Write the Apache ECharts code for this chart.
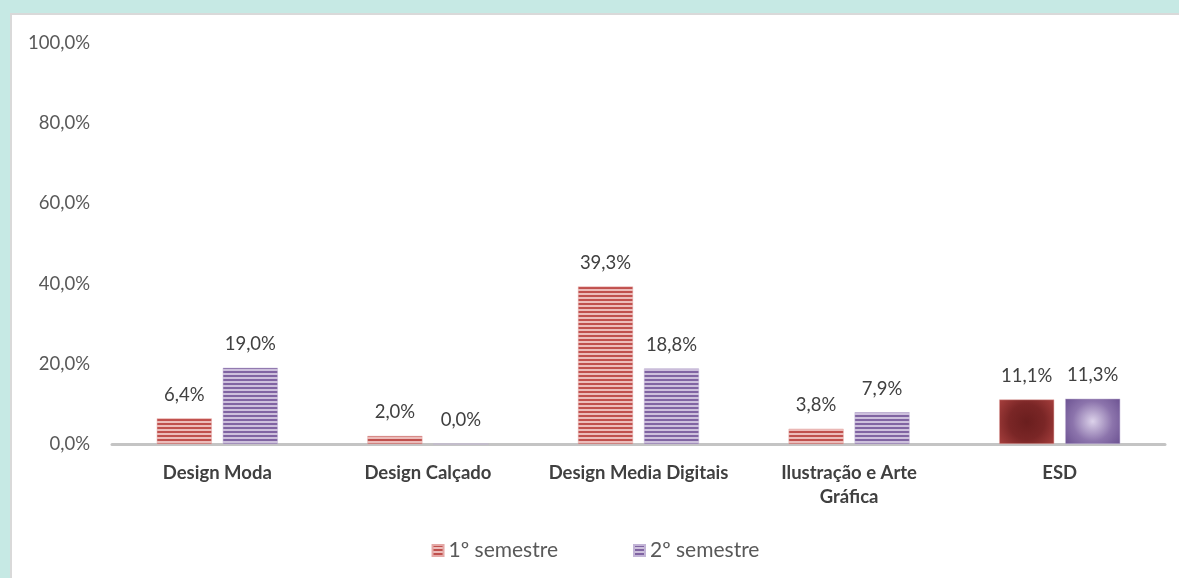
<!DOCTYPE html>
<html>
<head>
<meta charset="utf-8">
<script src="https://cdn.jsdelivr.net/npm/echarts@6/dist/echarts.min.js"></script>
<style>
  html, body { margin: 0; padding: 0; background: #c6e9e4; }
  #chart {
    position: absolute; left: 10px; top: 13px;
    width: 1169px; height: 565px;
    background: #fff;
    border-left: 2px solid #d9d9d9; border-top: 2px solid #d9d9d9;
    box-sizing: border-box;
  }
</style>
</head>
<body>
<div id="chart"></div>
<script>
const categories = ['Design Moda', 'Design Calçado', 'Design Media Digitais', 'Ilustração e Arte\nGráfica', 'ESD']
const sem1 = [6.4, 2.0, 39.3, 3.8, 11.1]
const sem2 = [19.0, 0.0, 18.8, 7.9, 11.3]
const yTicks = [0, 20, 40, 60, 80, 100]

const stripes = (dark, light) => {
  const c = document.createElement('canvas')
  c.width = 4
  c.height = 4
  const ctx = c.getContext('2d')
  ctx.fillStyle = light
  ctx.fillRect(0, 0, 4, 4)
  ctx.fillStyle = dark
  ctx.fillRect(0, 0, 4, 2)
  return { image: c, repeat: 'repeat' }
}

const redFill = stripes('#c0504d', '#ecbcba')
const purpleFill = stripes('#8064a2', '#cdc0dc')

const esdRed = {
  type: 'radial', x: 0.5, y: 0.5, r: 0.8,
  colorStops: [{ offset: 0, color: '#6a1e1e' }, { offset: 0.5, color: '#7a2626' }, { offset: 1, color: '#a8403e' }]
}
const esdPurple = {
  type: 'radial', x: 0.5, y: 0.5, r: 0.8,
  colorStops: [{ offset: 0, color: '#dcd2ea' }, { offset: 0.55, color: '#8c74ac' }, { offset: 1, color: '#6a5090' }]
}

const pct = v => v.toFixed(1).replace('.', ',') + '%'
const font = 'Lato, "Open Sans", sans-serif'

const makeData = (vals, esdColor) => vals.map((v, i) =>
  i === vals.length - 1 ? { value: v, itemStyle: { color: esdColor } } : v
)

const chart = echarts.init(document.getElementById('chart'))
chart.setOption({
  animation: false,
  textStyle: { fontFamily: font },
  grid: { left: 100, right: 14, top: 28, bottom: 134 },
  legend: {
    bottom: 12,
    left: 'center',
    itemGap: 75,
    itemWidth: 11,
    itemHeight: 11,
    icon: 'rect',
    textStyle: { fontSize: 21, color: '#595959', fontFamily: font },
    data: ['1º semestre', '2º semestre']
  },
  xAxis: {
    type: 'category',
    data: categories,
    axisTick: { show: false },
    axisLine: { lineStyle: { color: '#c4c4c4', width: 3 } },
    axisLabel: { fontSize: 18.5, fontWeight: 'bold', color: '#404040', margin: 17, lineHeight: 24, interval: 0 }
  },
  yAxis: {
    type: 'value',
    min: yTicks[0],
    max: yTicks[yTicks.length - 1],
    interval: 20,
    splitLine: { show: false },
    axisLine: { show: false },
    axisLabel: { fontSize: 18.5, color: '#595959', margin: 22, formatter: pct }
  },
  series: [
    {
      name: '1º semestre',
      type: 'bar',
      barWidth: 55,
      barGap: '20%',
      data: makeData(sem1, esdRed),
      itemStyle: { color: redFill, borderColor: '#e4a8a6', borderWidth: 0.5 },
      label: { show: true, position: 'top', distance: 14, fontSize: 18.5, color: '#404040', formatter: p => pct(p.value) }
    },
    {
      name: '2º semestre',
      type: 'bar',
      barWidth: 55,
      data: makeData(sem2, esdPurple),
      itemStyle: { color: purpleFill, borderColor: '#c2b4d6', borderWidth: 0.5 },
      label: { show: true, position: 'top', distance: 14, fontSize: 18.5, color: '#404040', formatter: p => pct(p.value) }
    }
  ]
})
</script>
</body>
</html>
